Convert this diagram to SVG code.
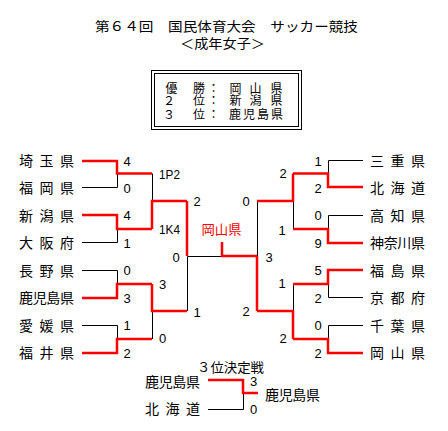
<svg xmlns="http://www.w3.org/2000/svg" width="448" height="431" viewBox="0 0 448 431">
<style>
.jp{font-family:"Noto Sans CJK JP","Noto Sans CJK SC",sans-serif;font-size:14px;fill:#000}
.tt{font-family:"Noto Sans CJK JP","Noto Sans CJK SC",sans-serif;font-size:13px;fill:#000}
.bx{font-family:"Noto Sans CJK JP","Noto Sans CJK SC",sans-serif;font-size:12px;fill:#000}
.n{font-family:"Liberation Sans",Arial,sans-serif;font-size:13px;fill:#000;text-anchor:middle}
.ns{font-family:"Liberation Sans",Arial,sans-serif;font-size:13px;fill:#000}
.win{fill:none;stroke:#ff0000;stroke-width:2.5}
.lose{fill:none;stroke:#000;stroke-width:1}
.frame{fill:none;stroke:#000;stroke-width:1}
.champ{font-family:"Noto Sans CJK JP","Noto Sans CJK SC",sans-serif;font-size:13px;fill:#ff0000}
</style>
<rect width="448" height="431" fill="#fff"/>
<g id="title">
<text class="tt" x="95" y="31" textLength="263" lengthAdjust="spacingAndGlyphs">第６４回　国民体育大会　サッカー競技</text>
<text class="tt" x="180" y="48" textLength="85" lengthAdjust="spacingAndGlyphs">＜成年女子＞</text>
</g>
<g id="results">
<rect class="frame" x="151.5" y="70.5" width="150" height="59"/>
<rect class="frame" x="154.5" y="73.5" width="144" height="53"/>
<text class="bx" x="165.5 178 193 207.5 229.5 242 249.5 262 270.5" y="92.5">優 勝：岡 山 県</text>
<text class="bx" x="163 178 193 207.5 229.5 242 249.5 262 270.5" y="105">２ 位：新 潟 県</text>
<text class="bx" x="163 178 193 207.5 229 243 257 271" y="118.5">３ 位：鹿児島県</text>
</g>
<g id="connectors">
<path class="lose" d="M82,187.5H117.5V173.5"/>
<path class="lose" d="M82,242.5H117.5V228.5"/>
<path class="lose" d="M82,270.5H117.5V284"/>
<path class="lose" d="M82,325.5H117.5V339"/>
<path class="lose" d="M152.5,173.5V201"/>
<path class="lose" d="M152.5,339V311"/>
<path class="lose" d="M187.5,311V256.5H222"/>
<path class="lose" d="M363,160.5H328.5V173.5"/>
<path class="lose" d="M363,215.5H328.5V228.5"/>
<path class="lose" d="M363,297.5H328.5V284"/>
<path class="lose" d="M363,325.5H328.5V339"/>
<path class="lose" d="M293.5,228.5V201"/>
<path class="lose" d="M293.5,284V311"/>
<path class="lose" d="M257.5,201V256"/>
<path class="lose" d="M208,409.5H243.5V393"/>
<path class="win" d="M82,161H117V173.5H152"/>
<path class="win" d="M82,215H117V229H152"/>
<path class="win" d="M82,298H117V284H152"/>
<path class="win" d="M82,353H117V339H152"/>
<path class="win" d="M152,229V201H187"/>
<path class="win" d="M152,284V311H187"/>
<path class="win" d="M187,201V256"/>
<path class="win" d="M222,242V256H257"/>
<path class="win" d="M363,187H328V173.5H293"/>
<path class="win" d="M363,243H328V229H293"/>
<path class="win" d="M363,270H328V284H293"/>
<path class="win" d="M363,353H328V339H293"/>
<path class="win" d="M293,173.5V201H257"/>
<path class="win" d="M293,339V311H257"/>
<path class="win" d="M257,311V256"/>
<path class="win" d="M208,380H243V393H258"/>
</g>
<g id="team-saitama"><text class="jp" x="19" y="166" textLength="55" lengthAdjust="spacing">埼 玉 県</text></g>
<g id="team-fukuoka"><text class="jp" x="19" y="193" textLength="55" lengthAdjust="spacing">福 岡 県</text></g>
<g id="team-niigata"><text class="jp" x="19" y="220.5" textLength="55" lengthAdjust="spacing">新 潟 県</text></g>
<g id="team-osaka"><text class="jp" x="19" y="248" textLength="55" lengthAdjust="spacing">大 阪 府</text></g>
<g id="team-nagano"><text class="jp" x="19" y="275.5" textLength="55" lengthAdjust="spacing">長 野 県</text></g>
<g id="team-kagoshima"><text class="jp" x="19" y="303" textLength="55" lengthAdjust="spacing">鹿児島県</text></g>
<g id="team-ehime"><text class="jp" x="19" y="330.5" textLength="55" lengthAdjust="spacing">愛 媛 県</text></g>
<g id="team-fukui"><text class="jp" x="19" y="358" textLength="55" lengthAdjust="spacing">福 井 県</text></g>
<g id="team-mie"><text class="jp" x="370" y="166" textLength="55" lengthAdjust="spacing">三 重 県</text></g>
<g id="team-hokkaido"><text class="jp" x="370" y="193" textLength="55" lengthAdjust="spacing">北 海 道</text></g>
<g id="team-kochi"><text class="jp" x="370" y="220.5" textLength="55" lengthAdjust="spacing">高 知 県</text></g>
<g id="team-kanagawa"><text class="jp" x="370" y="248" textLength="55" lengthAdjust="spacing">神奈川県</text></g>
<g id="team-fukushima"><text class="jp" x="370" y="275.5" textLength="55" lengthAdjust="spacing">福 島 県</text></g>
<g id="team-kyoto"><text class="jp" x="370" y="303" textLength="55" lengthAdjust="spacing">京 都 府</text></g>
<g id="team-chiba"><text class="jp" x="370" y="330.5" textLength="55" lengthAdjust="spacing">千 葉 県</text></g>
<g id="team-okayama"><text class="jp" x="370" y="358" textLength="55" lengthAdjust="spacing">岡 山 県</text></g>
<g id="champion"><text class="champ" x="201.5" y="233.5" textLength="40" lengthAdjust="spacingAndGlyphs">岡山県</text></g>
<g id="scores">
<text class="n" x="127" y="165.5">4</text>
<text class="n" x="127" y="192.5">0</text>
<text class="n" x="127" y="220">4</text>
<text class="n" x="127" y="247.5">1</text>
<text class="n" x="127" y="275">0</text>
<text class="n" x="127" y="302.5">3</text>
<text class="n" x="127" y="330">1</text>
<text class="n" x="127" y="357.5">2</text>
<text class="ns" x="159" y="178.5" textLength="21" lengthAdjust="spacingAndGlyphs">1P2</text>
<text class="ns" x="159" y="234" textLength="21" lengthAdjust="spacingAndGlyphs">1K4</text>
<text class="n" x="162.5" y="289">3</text>
<text class="n" x="162.5" y="343">0</text>
<text class="n" x="197" y="206">2</text>
<text class="n" x="197" y="317">1</text>
<text class="n" x="176" y="262">0</text>
<text class="n" x="318" y="165.5">1</text>
<text class="n" x="318" y="192.5">2</text>
<text class="n" x="318" y="220">0</text>
<text class="n" x="318" y="247.5">9</text>
<text class="n" x="318" y="275">5</text>
<text class="n" x="318" y="302.5">2</text>
<text class="n" x="318" y="330">0</text>
<text class="n" x="318" y="357.5">2</text>
<text class="n" x="283" y="178">2</text>
<text class="n" x="282" y="235">1</text>
<text class="n" x="282" y="288">1</text>
<text class="n" x="283" y="343">2</text>
<text class="n" x="246" y="205.5">0</text>
<text class="n" x="246" y="316">2</text>
<text class="n" x="269" y="262">3</text>
</g>
<g id="third-place">
<text class="tt" x="197" y="371.5" textLength="67" lengthAdjust="spacingAndGlyphs">３位決定戦</text>
<text class="n" x="253.5" y="386">3</text>
<text class="n" x="253.5" y="414">0</text>
</g>
<g id="third-kagoshima"><text class="jp" x="145" y="387" textLength="55" lengthAdjust="spacing">鹿児島県</text></g>
<g id="third-hokkaido"><text class="jp" x="145" y="414" textLength="55" lengthAdjust="spacing">北 海 道</text></g>
<g id="third-winner"><text class="jp" x="265" y="400" textLength="55" lengthAdjust="spacing">鹿児島県</text></g>
</svg>
